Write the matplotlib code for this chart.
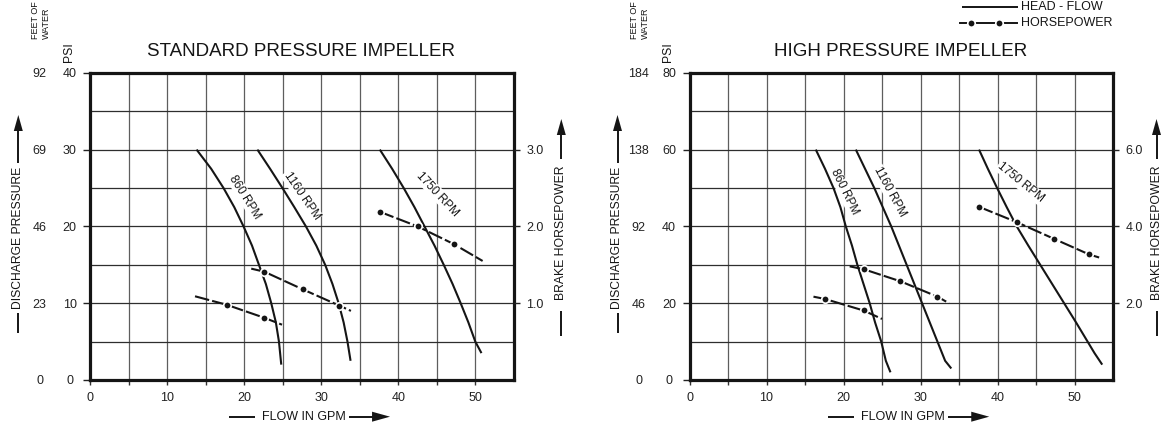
import matplotlib
matplotlib.use('agg')
import matplotlib.pyplot as plt
from matplotlib.lines import Line2D
from matplotlib.patches import Polygon

plt.rcParams['font.family'] = ['Liberation Sans', 'DejaVu Sans']

# ---- values ----
gpm_ticks = [0, 10, 20, 30, 40, 50]
gpm_minor = [5, 15, 25, 35, 45]

std_psi_ticks = [0, 10, 20, 30, 40]
std_psi_minor = [5, 15, 25, 35]
std_feet_ticks = [0, 23, 46, 69, 92]
std_hp_ticks = [1.0, 2.0, 3.0]

high_psi_ticks = [0, 20, 40, 60, 80]
high_psi_minor = [10, 30, 50, 70]
high_feet_ticks = [0, 46, 92, 138, 184]
high_hp_ticks = [2.0, 4.0, 6.0]

rpm_names = ['860 RPM', '1160 RPM', '1750 RPM']

# standard pressure impeller - head / flow (gpm, psi)
std_860_gpm = [13.8, 15.7, 17.3, 18.7, 19.9, 21.0, 21.9, 22.8, 23.5, 24.1, 24.5, 24.8]
std_860_psi = [30, 27.5, 25, 22.5, 20, 17.5, 15, 12.5, 10, 7.5, 5, 2.0]
std_1160_gpm = [21.7, 23.35, 24.95, 26.5, 28.0, 29.35, 30.5, 31.45, 32.25, 32.9, 33.4, 33.8]
std_1160_psi = [30, 27.5, 25, 22.5, 20, 17.5, 15, 12.5, 10, 7.5, 5, 2.5]
std_1750_gpm = [37.6, 39.2, 40.7, 42.1, 43.4, 44.7, 45.9, 47.05, 48.1, 49.1, 50.0, 50.8]
std_1750_psi = [30, 27.5, 25, 22.5, 20, 17.5, 15, 12.5, 10, 7.5, 5, 3.5]

# standard pressure impeller - horsepower (gpm, hp)
std_860_hp_gpm = [13.6, 17.7, 22.6, 24.9]
std_860_hp = [1.09, 0.98, 0.81, 0.72]
std_860_hp_dots = [1, 2]
std_1160_hp_gpm = [20.9, 22.6, 27.6, 32.3, 33.85]
std_1160_hp = [1.45, 1.41, 1.18, 0.97, 0.90]
std_1160_hp_dots = [1, 2, 3]
std_1750_hp_gpm = [37.6, 42.5, 47.2, 50.95]
std_1750_hp = [2.19, 2.0, 1.77, 1.55]
std_1750_hp_dots = [0, 1, 2]

# high pressure impeller - head / flow (gpm, psi)
high_860_gpm = [16.4, 17.6, 18.7, 19.6, 20.3, 21.1, 21.8, 22.6, 23.4, 24.1, 24.9, 25.5, 26.1]
high_860_psi = [60, 55, 50, 45, 40, 35, 30, 25, 20, 15, 10, 5, 2]
high_1160_gpm = [21.6, 22.8, 24.0, 25.1, 26.2, 27.2, 28.2, 29.2, 30.2, 31.2, 32.2, 33.2, 34.0]
high_1160_psi = [60, 55, 50, 45, 40, 35, 30, 25, 20, 15, 10, 5, 3]
high_1750_gpm = [37.6, 38.75, 39.95, 41.2, 42.5, 44.0, 45.55, 47.1, 48.65, 50.2, 51.7, 52.6, 53.6]
high_1750_psi = [60, 55, 50, 45, 40, 35, 30, 25, 20, 15, 10, 7, 4]

# high pressure impeller - horsepower (gpm, hp)
high_860_hp_gpm = [16.1, 17.6, 22.6, 25.0]
high_860_hp = [2.17, 2.11, 1.81, 1.59]
high_860_hp_dots = [1, 2]
high_1160_hp_gpm = [20.8, 22.7, 27.4, 32.2, 33.7]
high_1160_hp = [2.96, 2.88, 2.57, 2.17, 2.0]
high_1160_hp_dots = [1, 2, 3]
high_1750_hp_gpm = [37.6, 42.5, 47.3, 51.9, 53.2]
high_1750_hp = [4.51, 4.11, 3.68, 3.27, 3.19]
high_1750_hp_dots = [0, 1, 2, 3]

# ---- figure in pixel units ----
W, H = 1162, 424
fig = plt.figure(figsize=(W / 100, H / 100), dpi=100)
fig.patch.set_facecolor('white')
INK = '#151515'


def fx(x):
  return x / W


def fy(y):
  return 1 - y / H


def fig_line(xs, ys, lw=1.4):
  fig.add_artist(Line2D([fx(x) for x in xs], [fy(y) for y in ys],
                        transform=fig.transFigure, lw=lw, color=INK,
                        solid_capstyle='butt'))


def fig_head(pts):
  fig.add_artist(Polygon([(fx(x), fy(y)) for x, y in pts], closed=True,
                         transform=fig.transFigure, fc=INK, ec='none'))


def panel(left, title, psi_ticks, psi_minor, feet_ticks, hp_ticks,
          heads, hps, labels):
  right = left + 423.5
  top, bottom = 72.8, 380.0
  ax = fig.add_axes([fx(left), fy(bottom), (right - left) / W, (bottom - top) / H])
  ax.set_xlim(0, 55)
  ax.set_ylim(0, psi_ticks[-1])
  ax.set_axisbelow(True)

  ax.set_xticks(gpm_ticks)
  ax.set_xticks(gpm_minor, minor=True)
  ax.tick_params(axis='x', which='both', direction='out', length=3.8,
                 width=1.0, color='#333333', pad=4.5, labelsize=9,
                 labelcolor='#222222')
  ax.set_yticks(psi_ticks)
  ax.set_yticks(psi_minor, minor=True)
  ax.tick_params(axis='y', which='major', direction='out', length=5.4,
                 width=1.0, color='#222222', pad=9.4, labelsize=9,
                 labelcolor='#222222')
  ax.tick_params(axis='y', which='minor', length=0)
  for t in (ax.yaxis.get_major_ticks()[0], ax.yaxis.get_major_ticks()[-1]):
    t.tick1line.set_visible(False)
  plt.setp(ax.get_yticklabels(), ha='center')
  ax.grid(True, which='both', axis='x', color='#5e5e5e', lw=0.9)
  ax.grid(True, which='both', axis='y', color='#2e2e2e', lw=0.9)
  for s in ax.spines.values():
    s.set_linewidth(2.3)
    s.set_color(INK)

  # feet of water column, same scale as psi
  sec = ax.secondary_yaxis('left', functions=(lambda p: p * 2.3, lambda f: f / 2.3))
  sec.set_yticks(feet_ticks)
  sec.tick_params(length=0, pad=36.5, labelsize=9, labelcolor='#222222')
  sec.spines['left'].set_visible(False)
  plt.setp(sec.get_yticklabels(), ha='center')

  # horsepower on its own right-hand scale
  ax2 = ax.twinx()
  ax2.set_ylim(0, psi_ticks[-1] / 10)
  ax2.set_yticks(hp_ticks, labels=['{:.1f}'.format(v) for v in hp_ticks])
  ax2.tick_params(axis='y', direction='out', length=4.5, width=1.0,
                  color='#222222', pad=4.5, labelsize=9, labelcolor='#222222')
  for s in ax2.spines.values():
    s.set_visible(False)

  for gpm, psi in heads:
    ax.plot(gpm, psi, color=INK, lw=1.5, zorder=4, solid_capstyle='butt',
            solid_joinstyle='round')
  for gpm, hp, dots in hps:
    ax2.plot(gpm, hp, color=INK, lw=1.5, ls=(0, (7, 1.5)), marker='o',
             markevery=dots, ms=5.4, mfc=INK, mec='white', mew=1.2, zorder=4)
  for name, (x, y, rot) in zip(rpm_names, labels):
    ax.text(x, y, name, rotation=rot, rotation_mode='anchor', ha='center',
            va='center', fontsize=8.5, color=INK, zorder=3,
            bbox=dict(fc='white', ec='none', pad=0.6))

  c = (left + right) / 2
  fig.text(fx(c - 1), fy(51.7), title, ha='center', va='center',
           fontsize=13.5, color=INK)

  # column headers over the two left scales
  for dx, word in ((-54.8, 'FEET OF'), (-43.6, 'WATER')):
    fig.text(fx(left + dx), fy(38.8), word, rotation=90, ha='center',
             va='bottom', fontsize=6.5, color=INK, linespacing=1.0)
  fig.text(fx(left - 21.3), fy(61.7), 'PSI', rotation=90, ha='center',
           va='bottom', fontsize=8.8, color=INK)

  # discharge pressure label with arrow
  xd = left - 72
  fig.text(fx(xd), fy(237.5), 'DISCHARGE PRESSURE', rotation=90, ha='center',
           va='center', fontsize=8.7, color=INK)
  fig_line([xd, xd], [313, 333])
  fig_line([xd, xd], [163, 130])
  fig_head([(xd - 4.5, 131), (xd + 4.5, 131), (xd, 115)])

  # brake horsepower label with arrow
  xb = min(right + 47.5, 1156.5)
  fig.text(fx(xb), fy(233), 'BRAKE HORSEPOWER', rotation=90, ha='center',
           va='center', fontsize=8.8, color=INK)
  fig_line([xb, xb], [311, 336])
  fig_line([xb, xb], [159, 134])
  fig_head([(xb - 4.5, 135), (xb + 4.5, 135), (xb, 119)])

  # flow label with arrow
  yf = 416.7
  fig.text(fx(c + 2), fy(yf), 'FLOW IN GPM', ha='center', va='center',
           fontsize=9, color=INK)
  fig_line([c - 73, c - 47], [yf, yf])
  fig_line([c + 47, c + 71], [yf, yf])
  fig_head([(c + 70, yf - 5), (c + 70, yf + 5), (c + 88, yf)])
  return ax


panel(90.3, 'STANDARD PRESSURE IMPELLER', std_psi_ticks, std_psi_minor,
      std_feet_ticks, std_hp_ticks,
      [(std_860_gpm, std_860_psi), (std_1160_gpm, std_1160_psi),
       (std_1750_gpm, std_1750_psi)],
      [(std_860_hp_gpm, std_860_hp, std_860_hp_dots),
       (std_1160_hp_gpm, std_1160_hp, std_1160_hp_dots),
       (std_1750_hp_gpm, std_1750_hp, std_1750_hp_dots)],
      [(20.1, 23.8, -58), (27.45, 24.0, -55.5), (45.1, 24.2, -47)])

panel(689.5, 'HIGH PRESSURE IMPELLER', high_psi_ticks, high_psi_minor,
      high_feet_ticks, high_hp_ticks,
      [(high_860_gpm, high_860_psi), (high_1160_gpm, high_1160_psi),
       (high_1750_gpm, high_1750_psi)],
      [(high_860_hp_gpm, high_860_hp, high_860_hp_dots),
       (high_1160_hp_gpm, high_1160_hp, high_1160_hp_dots),
       (high_1750_hp_gpm, high_1750_hp, high_1750_hp_dots)],
      [(20.15, 49.0, -64), (26.0, 49.0, -61.5), (43.0, 51.4, -39)])

# legend in the top right corner
fig_line([961.7, 1018.3], [7.3, 7.3])
fig.text(fx(1020.7), fy(7.3), 'HEAD - FLOW', ha='left', va='center',
         fontsize=9, color=INK)
fig.add_artist(Line2D([fx(x) for x in (960, 970.7, 999.3, 1016.7)],
                      [fy(23.3)] * 4, transform=fig.transFigure, lw=1.4,
                      color=INK, marker='o', markevery=[1, 2], ms=5.4,
                      mfc=INK, mec='white', mew=1.2))
fig.text(fx(1021), fy(23.3), 'HORSEPOWER', ha='left', va='center',
         fontsize=9, color=INK)

fig.savefig('out.png', dpi=100)
